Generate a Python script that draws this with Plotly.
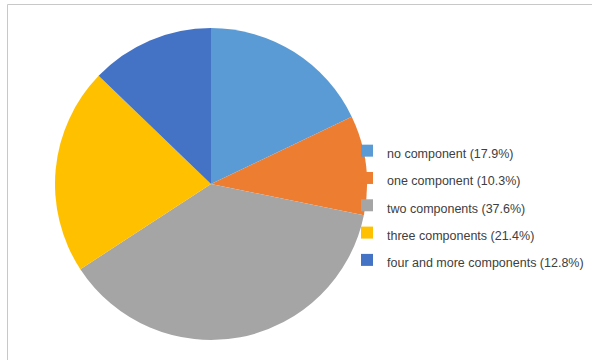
import plotly.graph_objects as go

categories = ["no component", "one component", "two components", "three components", "four and more components"]
shares = [17.9, 10.3, 37.6, 21.4, 12.8]
colors = ["#5B9BD5", "#ED7D31", "#A5A5A5", "#FFC000", "#4472C4"]

labels = [f"<span style='font-size:12.5px'>{c} ({v:.1f}%)</span>" for c, v in zip(categories, shares)]

W, H = 592, 360
cx, cy, r = 211, 184, 156

fig = go.Figure(go.Pie(
    labels=labels,
    values=shares,
    sort=False,
    direction="clockwise",
    rotation=0,
    marker=dict(colors=colors, line=dict(width=0)),
    textinfo="none",
    hoverinfo="label+percent",
    domain=dict(x=[(cx - r) / W, (cx + r) / W], y=[(H - cy - r) / H, (H - cy + r) / H]),
))

fig.update_layout(
    width=W, height=H,
    margin=dict(l=0, r=0, t=0, b=0),
    paper_bgcolor="white",
    plot_bgcolor="white",
    font=dict(family="Liberation Sans, Arial, sans-serif", color="#404040"),
    legend=dict(
        x=347 / W, y=1 - 132 / H, xanchor="left", yanchor="top",
        font=dict(size=18.7, color="#404040"),
        itemwidth=30,
        bgcolor="rgba(0,0,0,0)",
        traceorder="normal",
    ),
    shapes=[dict(
        type="rect", xref="paper", yref="paper",
        x0=7.5 / W, x1=1.05, y0=-0.05, y1=1 - 4.5 / H,
        line=dict(color="#c8c8c8", width=1),
        fillcolor="rgba(0,0,0,0)", layer="below",
    )],
)

fig.write_html(
    "out.html",
    config={"displayModeBar": False},
    post_script="document.body.style.margin='0';document.body.style.overflow='hidden';",
)
